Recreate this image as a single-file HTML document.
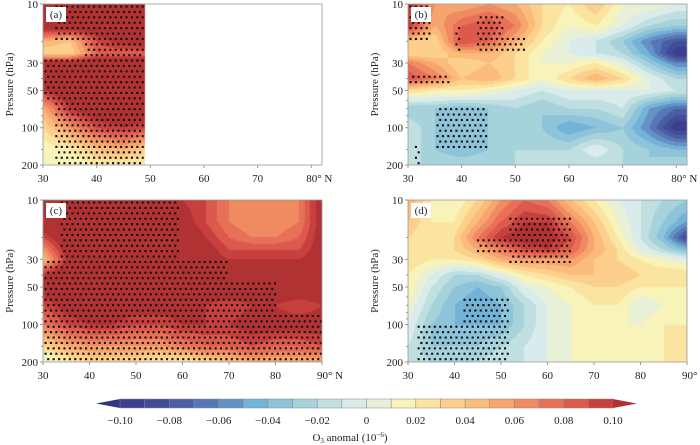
<!DOCTYPE html>
<html><head><meta charset="utf-8">
<style>
html,body{margin:0;padding:0;background:#fff;}
#root{position:relative;width:700px;height:445px;overflow:hidden;font-family:"Liberation Serif",serif;color:#222;}
canvas{position:absolute;}
svg{position:absolute;left:0;top:0;font-family:"Liberation Serif",serif;}
svg text{font-family:"Liberation Serif",serif;fill:#222;}
</style></head>
<body>
<div id="root">
<canvas id="ca" width="279" height="161" style="left:43px;top:4px"></canvas>
<canvas id="cb" width="279" height="161" style="left:408px;top:4px"></canvas>
<canvas id="cc" width="279" height="162" style="left:43px;top:200px"></canvas>
<canvas id="cd" width="279" height="162" style="left:408px;top:200px"></canvas>
<svg id="ov" width="700" height="445" font-family="Liberation Serif, serif"></svg>
</div>
<script>
const P = [10,15,20,25,30,40,50,70,100,150,200];
const latsTop = [30,35,40,45,50,55,60,65,70,75,80,85];
const latsBot = [30,35,40,45,50,55,60,65,70,75,80,85,90];
const latsA = [30,35,40,45,50];
const fieldA = [
[0.12,0.12,0.12,0.12,0.12],
[0.12,0.12,0.12,0.12,0.12],
[0.05,0.04,0.09,0.11,0.12],
[0.03,0.03,0.08,0.08,0.08],
[0.12,0.12,0.12,0.12,0.12],
[0.12,0.12,0.12,0.12,0.12],
[0.10,0.12,0.12,0.12,0.12],
[0.05,0.10,0.12,0.12,0.12],
[0.03,0.06,0.09,0.10,0.09],
[0.01,0.02,0.04,0.05,0.03],
[0.01,0.01,0.02,0.02,0.02]];
const fieldB = [
[0.10,0.06,0.05,0.06,0.05,0.03,0.02,0.04,0.01,0.01,0.00,0.00],
[0.10,0.05,0.08,0.09,0.07,0.03,0.01,0.02,0.00,-0.02,-0.03,-0.03],
[0.04,0.03,0.09,0.08,0.05,0.02,0.00,-0.01,-0.03,-0.06,-0.08,-0.08],
[0.03,0.03,0.05,0.05,0.03,0.01,0.00,-0.01,-0.02,-0.05,-0.10,-0.10],
[0.07,0.05,0.03,0.04,0.03,0.01,0.01,0.02,0.00,-0.03,-0.06,-0.06],
[0.09,0.07,0.04,0.05,0.03,0.01,0.03,0.05,0.03,0.00,-0.02,-0.02],
[0.03,0.02,0.02,0.01,0.00,-0.01,0.00,0.00,0.00,0.00,-0.01,-0.01],
[-0.03,-0.03,-0.04,-0.03,-0.02,-0.03,-0.02,-0.02,-0.01,-0.05,-0.07,-0.07],
[-0.01,-0.03,-0.04,-0.03,-0.03,-0.03,-0.05,-0.04,-0.03,-0.06,-0.10,-0.10],
[-0.01,-0.03,-0.04,-0.03,-0.02,-0.02,-0.02,0.00,-0.02,-0.03,-0.04,-0.04],
[-0.02,-0.02,-0.02,-0.02,-0.02,-0.02,-0.02,-0.02,-0.02,-0.03,-0.02,-0.02]];
const fieldC = [
[0.12,0.12,0.12,0.12,0.12,0.12,0.10,0.09,0.07,0.06,0.06,0.07,0.11],
[0.12,0.12,0.12,0.12,0.12,0.12,0.11,0.09,0.07,0.06,0.06,0.07,0.11],
[0.09,0.12,0.12,0.12,0.12,0.12,0.12,0.10,0.08,0.07,0.07,0.08,0.11],
[0.06,0.11,0.12,0.12,0.12,0.12,0.12,0.11,0.09,0.09,0.09,0.09,0.11],
[0.04,0.10,0.12,0.12,0.12,0.12,0.12,0.11,0.10,0.10,0.10,0.10,0.11],
[0.10,0.12,0.12,0.12,0.12,0.12,0.12,0.12,0.12,0.12,0.12,0.12,0.12],
[0.11,0.12,0.12,0.12,0.12,0.12,0.12,0.12,0.12,0.12,0.12,0.12,0.12],
[0.09,0.11,0.12,0.12,0.11,0.11,0.11,0.10,0.09,0.10,0.10,0.09,0.10],
[0.07,0.09,0.10,0.10,0.09,0.09,0.10,0.10,0.10,0.11,0.11,0.11,0.11],
[0.03,0.05,0.06,0.06,0.06,0.06,0.07,0.08,0.08,0.09,0.08,0.08,0.09],
[0.00,0.02,0.03,0.03,0.03,0.02,0.02,0.03,0.04,0.05,0.05,0.05,0.05]];
const fieldD = [
[0.05,0.02,0.01,0.03,0.06,0.08,0.07,0.04,0.02,0.00,-0.01,-0.02,-0.03],
[0.04,0.02,0.02,0.05,0.08,0.10,0.10,0.07,0.04,0.01,-0.01,-0.03,-0.05],
[0.03,0.02,0.03,0.07,0.10,0.11,0.11,0.09,0.05,0.02,-0.01,-0.04,-0.09],
[0.03,0.02,0.03,0.05,0.07,0.09,0.10,0.08,0.05,0.03,0.00,-0.02,-0.04],
[0.03,0.02,0.02,0.03,0.05,0.06,0.06,0.06,0.04,0.03,0.02,0.01,0.00],
[0.02,0.00,-0.02,-0.02,0.00,0.02,0.03,0.04,0.04,0.04,0.03,0.03,0.03],
[0.02,-0.01,-0.03,-0.04,-0.03,0.00,0.01,0.02,0.03,0.03,0.02,0.02,0.02],
[0.01,-0.02,-0.04,-0.05,-0.04,-0.02,0.00,0.01,0.02,0.02,0.00,0.01,0.02],
[0.00,-0.03,-0.04,-0.04,-0.04,-0.02,0.00,0.01,0.01,0.01,0.01,0.02,0.02],
[-0.01,-0.03,-0.03,-0.03,-0.02,-0.01,0.00,0.01,0.01,0.01,0.02,0.02,0.02],
[-0.01,-0.02,-0.02,-0.02,-0.01,-0.01,0.00,0.01,0.01,0.01,0.01,0.02,0.02]];
// significance regions [latMin, latMax, pTop, pBottom]
const stipA = [[32,49,10,20],[38,49,20,28],[30,49,28,60],[32,49,60,200]];
const stipB = [[30,34,10,20],[39,40,15,25],[43,48,12,25],[48,52,18,25],[30,38,35,47],[35,45,70,155],[31,32,140,200]];
const stipC = [[34,59,10,30],[30,60,30,200],[60,70,30,200],[70,80,45,200],[80,90,80,200]];
const stipD = [[45,52,20,28],[52,65,14,33],[32,52,100,200],[42,52,60,100]];
const colors = ["#35357f","#3c3f8f","#424d99","#4a5ea6","#5677b5","#6492c4","#74b3d8","#8ec4d9","#a6d2dc","#bfdfe0","#d9ebeb",
"#e8f0d8","#f8f3b8","#fbe3a0","#fcd08c","#fbbb7b","#f6a56e","#f08a60","#e87058","#dc5a4c","#c8403e","#b13232"];
const cbLabels = ["\u22120.10","\u22120.08","\u22120.06","\u22120.04","\u22120.02","0","0.02","0.04","0.06","0.08","0.10"];
const xTickTop = [30,40,50,60,70,80];
const xTickBot = [30,40,50,60,70,80,90];
const yTicks = [10,30,50,100,200];
const yMinor = [20,40,60,70,80,90,150];

const NS="http://www.w3.org/2000/svg";
const ov=document.getElementById('ov');
function mk(tag,attrs,parent){const e=document.createElementNS(NS,tag);for(const k in attrs)e.setAttribute(k,attrs[k]);(parent||ov).appendChild(e);return e;}
function yFrac(p){return Math.log(p/10)/Math.log(20);}
function colorIdx(v){let i=Math.floor((v+0.10)/0.01+1e-9)+1;if(i<0)i=0;if(i>21)i=21;return i;}
function interp(lats,field,lat,p){
  let j=0;while(j<lats.length-2&&lat>lats[j+1])j++;
  let tx=(lat-lats[j])/(lats[j+1]-lats[j]);tx=Math.max(0,Math.min(1,tx));
  const lp=Math.log(p);let i=0;while(i<P.length-2&&p>P[i+1])i++;
  let ty=(lp-Math.log(P[i]))/(Math.log(P[i+1])-Math.log(P[i]));ty=Math.max(0,Math.min(1,ty));
  const a=field[i][j],b=field[i][j+1],c=field[i+1][j],d=field[i+1][j+1];
  return (a*(1-tx)+b*tx)*(1-ty)+(c*(1-tx)+d*tx)*ty;
}
function drawPanel(cid,lats,field,latMax,latClip){
  const cv=document.getElementById(cid),ctx=cv.getContext('2d');
  const W=cv.width,H=cv.height;
  for(let y=0;y<H;y++){const p=10*Math.pow(20,(y+0.5)/H);
    for(let x=0;x<W;x++){const lat=30+(latMax-30)*(x+0.5)/W;
      if(latClip&&lat>latClip)continue;
      ctx.fillStyle=colors[colorIdx(interp(lats,field,lat,p))];ctx.fillRect(x,y,1,1);}}
}
function panelAxes(name,X0,Y0,W,H,latMax,ticks,stip,label){
  const g=mk('g',{});
  
  
  const sx=lat=>X0+(lat-30)/(latMax-30)*W, sy=p=>Y0+yFrac(p)*H;
  const sg=mk('g',{fill:'#111'},g);
  
  
  let row=0;
  for(let y=Y0+2.5;y<Y0+H;y+=5.4,row++){
    const p=10*Math.pow(20,(y-Y0)/H);
    for(let x=X0+2.5+(row%2)*2.7;x<X0+W;x+=5.4){
      const lat=30+(x-X0)/W*(latMax-30);
      if(stip.some(r=>lat>=r[0]&&lat<=r[1]&&p>=r[2]&&p<=r[3]))
        mk('rect',{x:(x-1).toFixed(1),y:(y-1).toFixed(1),width:2.1,height:2.1},sg);
    }
  }
  mk('rect',{x:X0,y:Y0,width:W,height:H,fill:'none',stroke:'#999','stroke-width':0.8},g);
  yTicks.forEach(p=>{const y=sy(p);mk('line',{x1:X0-3,x2:X0,y1:y,y2:y,stroke:'#999'},g);
    const t=mk('text',{x:X0-5,y:y+4,'text-anchor':'end','font-size':11},g);t.textContent=p;});
  yMinor.forEach(p=>{const y=sy(p);mk('line',{x1:X0-2,x2:X0,y1:y,y2:y,stroke:'#999'},g);});
  ticks.forEach((v,k)=>{const x=sx(v);mk('line',{x1:x,x2:x,y1:Y0+H,y2:Y0+H+3,stroke:'#999'},g);
    const t=mk('text',{x:x,y:Y0+H+17,'text-anchor':'middle','font-size':11},g);
    t.textContent = k==ticks.length-1 ? v+'\u00b0 N' : v;
    if(k==ticks.length-1)t.setAttribute('x',x+8);});
  const lb=mk('rect',{x:X0+3,y:Y0+3,width:20,height:15,fill:'#fff'},g);
  
  
  const lt=mk('text',{x:X0+13,y:Y0+14,'text-anchor':'middle','font-size':11},g);lt.textContent=label;
  const yt=mk('text',{transform:`translate(${X0-30},${Y0+H/2}) rotate(-90)`,'text-anchor':'middle','font-size':11},g);
  yt.textContent='Pressure (hPa)';
  
  
}
drawPanel('ca',latsA,fieldA,82,49);
drawPanel('cb',latsTop,fieldB,82);
drawPanel('cc',latsBot,fieldC,90);
drawPanel('cd',latsBot,fieldD,90);
panelAxes('panel-a',43,4,279,161,82,xTickTop,stipA,'(a)');
panelAxes('panel-b',408,4,279,161,82,xTickTop,stipB,'(b)');
panelAxes('panel-c',43,200,279,162,90,xTickBot,stipC,'(c)');
panelAxes('panel-d',408,200,279,162,90,xTickBot,stipD,'(d)');
const cb=mk('g',{});


const cx0=120,cw=24.65,cy=399,ch=9;
mk('polygon',{points:`${cx0},${cy} ${cx0},${cy+ch} 96,${cy+ch/2}`,fill:colors[0]},cb);
for(let i=1;i<=20;i++){const r=mk('rect',{x:cx0+(i-1)*cw,y:cy,width:cw,height:ch,fill:colors[i],stroke:'#888','stroke-width':0.5},cb);
  
  }
mk('polygon',{points:`${cx0+20*cw},${cy} ${cx0+20*cw},${cy+ch} 637,${cy+ch/2}`,fill:colors[21]},cb);
cbLabels.forEach((s,k)=>{const t=mk('text',{x:cx0+k*2*cw,y:424,'text-anchor':'middle','font-size':11},cb);t.textContent=s;});
const ct=mk('text',{x:350,y:441,'text-anchor':'middle','font-size':11},cb);
ct.innerHTML='O<tspan font-size="7" dy="2">3</tspan><tspan dy="-2"> anomal (10</tspan><tspan font-size="7" dy="-4">\u22126</tspan><tspan dy="4">)</tspan>';


</script>
</body></html>
